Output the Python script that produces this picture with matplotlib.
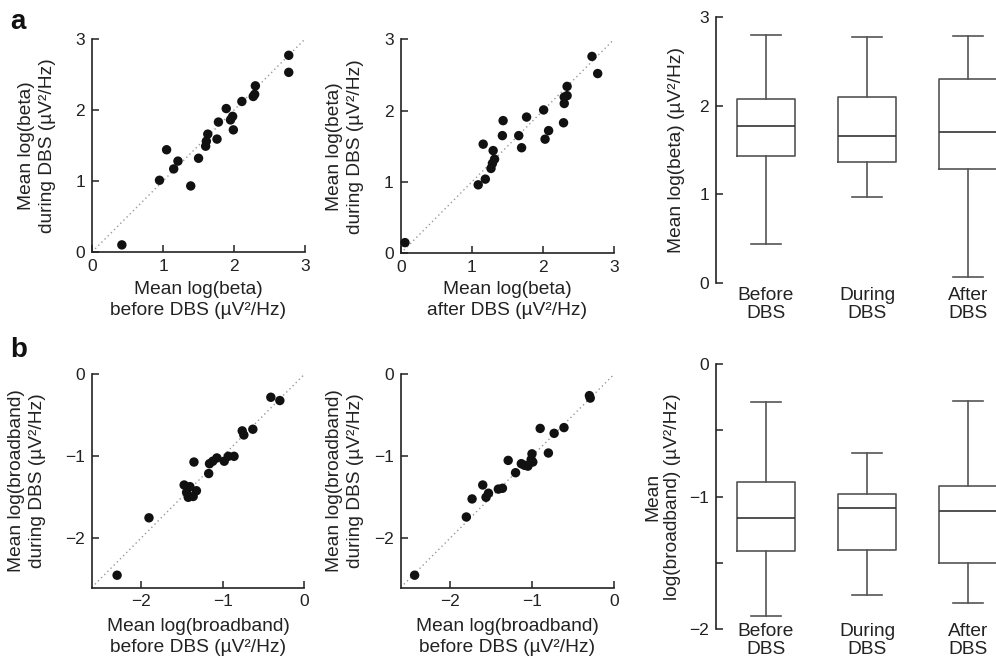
import matplotlib
matplotlib.use("Agg")
import matplotlib.pyplot as plt

plt.rcParams["font.family"] = ["Liberation Sans", "DejaVu Sans"]

# ---- panel a: mean log(beta), one point per recording ---------------------
BETA_BEFORE = [0.42, 0.95, 1.05, 1.15, 1.21, 1.39, 1.50, 1.60, 1.61, 1.63, 1.76,
               1.78, 1.89, 1.95, 1.98, 1.99, 2.11, 2.27, 2.29, 2.30, 2.77, 2.77]
BETA_DURING_1 = [0.10, 1.01, 1.44, 1.17, 1.28, 0.93, 1.32, 1.49, 1.56, 1.66, 1.59,
                 1.83, 2.02, 1.86, 1.91, 1.72, 2.12, 2.19, 2.22, 2.34, 2.77, 2.53]
BETA_AFTER = [0.06, 1.09, 1.19, 1.16, 1.27, 1.29, 1.32, 1.30, 1.43, 1.44, 1.66, 1.70,
              1.77, 2.01, 2.03, 2.08, 2.29, 2.30, 2.30, 2.34, 2.34, 2.69, 2.77]
BETA_DURING_2 = [0.15, 0.96, 1.04, 1.53, 1.19, 1.26, 1.32, 1.44, 1.65, 1.86, 1.65, 1.48,
                 1.91, 2.01, 1.60, 1.72, 1.83, 2.10, 2.19, 2.21, 2.34, 2.76, 2.52]

# ---- panel b: mean log(broadband) -----------------------------------------
BB_BEFORE_1 = [-2.29, -1.90, -1.47, -1.44, -1.42, -1.36, -1.32, -1.35, -1.17, -1.16, -1.12,
               -1.07, -0.98, -0.93, -0.86, -0.76, -0.74, -0.63, -0.41, -0.30, -1.40]
BB_DURING_1 = [-2.45, -1.75, -1.35, -1.44, -1.50, -1.49, -1.42, -1.07, -1.21, -1.09, -1.06,
               -1.02, -1.06, -1.00, -1.00, -0.69, -0.74, -0.67, -0.28, -0.32, -1.37]
BB_BEFORE_2 = [-2.43, -1.80, -1.73, -1.60, -1.56, -1.53, -1.41, -1.36, -1.29, -1.20, -1.13,
               -1.09, -1.05, -1.01, -1.00, -0.99, -0.90, -0.80, -0.73, -0.61, -0.30, -0.29]
BB_DURING_2 = [-2.45, -1.74, -1.52, -1.35, -1.50, -1.45, -1.40, -1.39, -1.05, -1.20, -1.09,
               -1.11, -1.12, -1.04, -0.97, -1.07, -0.66, -0.96, -0.72, -0.65, -0.26, -0.29]

# ---- box plot summaries (before, during, after) ---------------------------
BOX_LABELS = ["Before\nDBS", "During\nDBS", "After\nDBS"]
BETA_WHISLO = [0.44, 0.97, 0.07]
BETA_Q1 = [1.43, 1.36, 1.29]
BETA_MED = [1.77, 1.66, 1.70]
BETA_Q3 = [2.08, 2.10, 2.30]
BETA_WHISHI = [2.80, 2.77, 2.79]

BB_WHISLO = [-1.90, -1.74, -1.80]
BB_Q1 = [-1.41, -1.40, -1.50]
BB_MED = [-1.16, -1.09, -1.11]
BB_Q3 = [-0.89, -0.98, -0.92]
BB_WHISHI = [-0.29, -0.67, -0.28]

UNIT = "(\u00b5V\u00b2/Hz)"
TXT = "#222222"
LBL = 13.8
TCK = 12.5

fig = plt.figure(figsize=(9.96, 6.64), dpi=100)


def style_axes(ax):
    for s in ("top", "right"):
        ax.spines[s].set_visible(False)
    for s in ("left", "bottom"):
        ax.spines[s].set_linewidth(1.2)
        ax.spines[s].set_color(TXT)
    ax.tick_params(direction="in", length=5, width=1.1, colors=TXT,
                   labelsize=TCK, pad=5)


def scatter_panel(rect, x, y, lim, ticks, xlabel, ylabel, ylab_x, xlab_y):
    ax = fig.add_axes(rect)
    style_axes(ax)
    ax.plot(lim, lim, color="#999999", ls=(0, (1, 2.2)), lw=1.0, zorder=1)
    ax.scatter(x, y, s=46, color="#111111", edgecolors="none", zorder=3, clip_on=False)
    ax.set_xlim(lim)
    ax.set_ylim(lim)
    ax.set_xticks(ticks)
    ax.set_yticks(ticks)
    ax.set_xlabel(xlabel, fontsize=LBL, color=TXT, linespacing=1.3)
    ax.set_ylabel(ylabel, fontsize=LBL, color=TXT, linespacing=1.3)
    ax.yaxis.set_label_coords(ylab_x, 0.5)
    ax.xaxis.set_label_coords(0.5, xlab_y)
    return ax


def box_panel(rect, lo, q1, med, q3, hi, ylim, yticks, yticklabels, ylabel,
              ylab_x, label_pad):
    ax = fig.add_axes(rect)
    style_axes(ax)
    ax.spines["bottom"].set_visible(False)
    stats = [{"whislo": a, "q1": b, "med": c, "q3": d, "whishi": e}
             for a, b, c, d, e in zip(lo, q1, med, q3, hi)]
    line = dict(color="#555555", lw=1.2)
    ax.bxp(stats, positions=[1, 2, 3], widths=0.58, showfliers=False,
           boxprops=line, whiskerprops=line, capprops=line,
           medianprops=dict(color="#333333", lw=1.2), capwidths=0.3)
    ax.set_xlim(0.505, 3.277)
    ax.set_ylim(ylim)
    ax.set_yticks(yticks)
    ax.set_yticklabels(yticklabels)
    ax.set_xticks([1, 2, 3])
    ax.set_xticklabels(BOX_LABELS, fontsize=LBL, color=TXT, linespacing=1.05)
    ax.tick_params(axis="x", length=0, pad=label_pad)
    ax.set_ylabel(ylabel, fontsize=LBL, color=TXT, linespacing=1.2)
    ax.yaxis.set_label_coords(ylab_x, 0.5)
    return ax


# row a
scatter_panel([0.0924, 0.6205, 0.2139, 0.3208], BETA_BEFORE, BETA_DURING_1,
              (0, 3), [0, 1, 2, 3],
              "Mean log(beta)\nbefore DBS " + UNIT,
              "Mean log(beta)\nduring DBS " + UNIT, -0.17, -0.135)
scatter_panel([0.4023, 0.6185, 0.2142, 0.3223], BETA_AFTER, BETA_DURING_2,
              (0, 3), [0, 1, 2, 3],
              "Mean log(beta)\nafter DBS " + UNIT,
              "Mean log(beta)\nduring DBS " + UNIT, -0.172, -0.13)
box_panel([0.7189, 0.5738, 0.2811, 0.4006], BETA_WHISLO, BETA_Q1, BETA_MED,
          BETA_Q3, BETA_WHISHI, (0, 3), [0, 1, 2, 3], ["0", "1", "2", "3"],
          "Mean log(beta) " + UNIT, -0.11, 3)

# row b
scatter_panel([0.0921, 0.1152, 0.2135, 0.3211], BB_BEFORE_1, BB_DURING_1,
              (-2.6, 0), [-2, -1, 0],
              "Mean log(broadband)\nbefore DBS " + UNIT,
              "Mean log(broadband)\nduring DBS " + UNIT, -0.215, -0.145)
scatter_panel([0.4023, 0.1152, 0.2142, 0.3211], BB_BEFORE_2, BB_DURING_2,
              (-2.6, 0), [-2, -1, 0],
              "Mean log(broadband)\nbefore DBS " + UNIT,
              "Mean log(broadband)\nduring DBS " + UNIT, -0.172, -0.145)
box_panel([0.7189, 0.0527, 0.2811, 0.3990], BB_WHISLO, BB_Q1, BB_MED,
          BB_Q3, BB_WHISHI, (-2, 0), [-2, -1.5, -1, -0.5, 0],
          ["\u22122", "", "\u22121", "", "0"],
          "Mean\nlog(broadband) " + UNIT, -0.125, -4)

fig.text(0.010, 0.957, "a", fontsize=20, fontweight="bold", color="#111111")
fig.text(0.010, 0.462, "b", fontsize=20, fontweight="bold", color="#111111")

fig.savefig("out.png", dpi=100)
